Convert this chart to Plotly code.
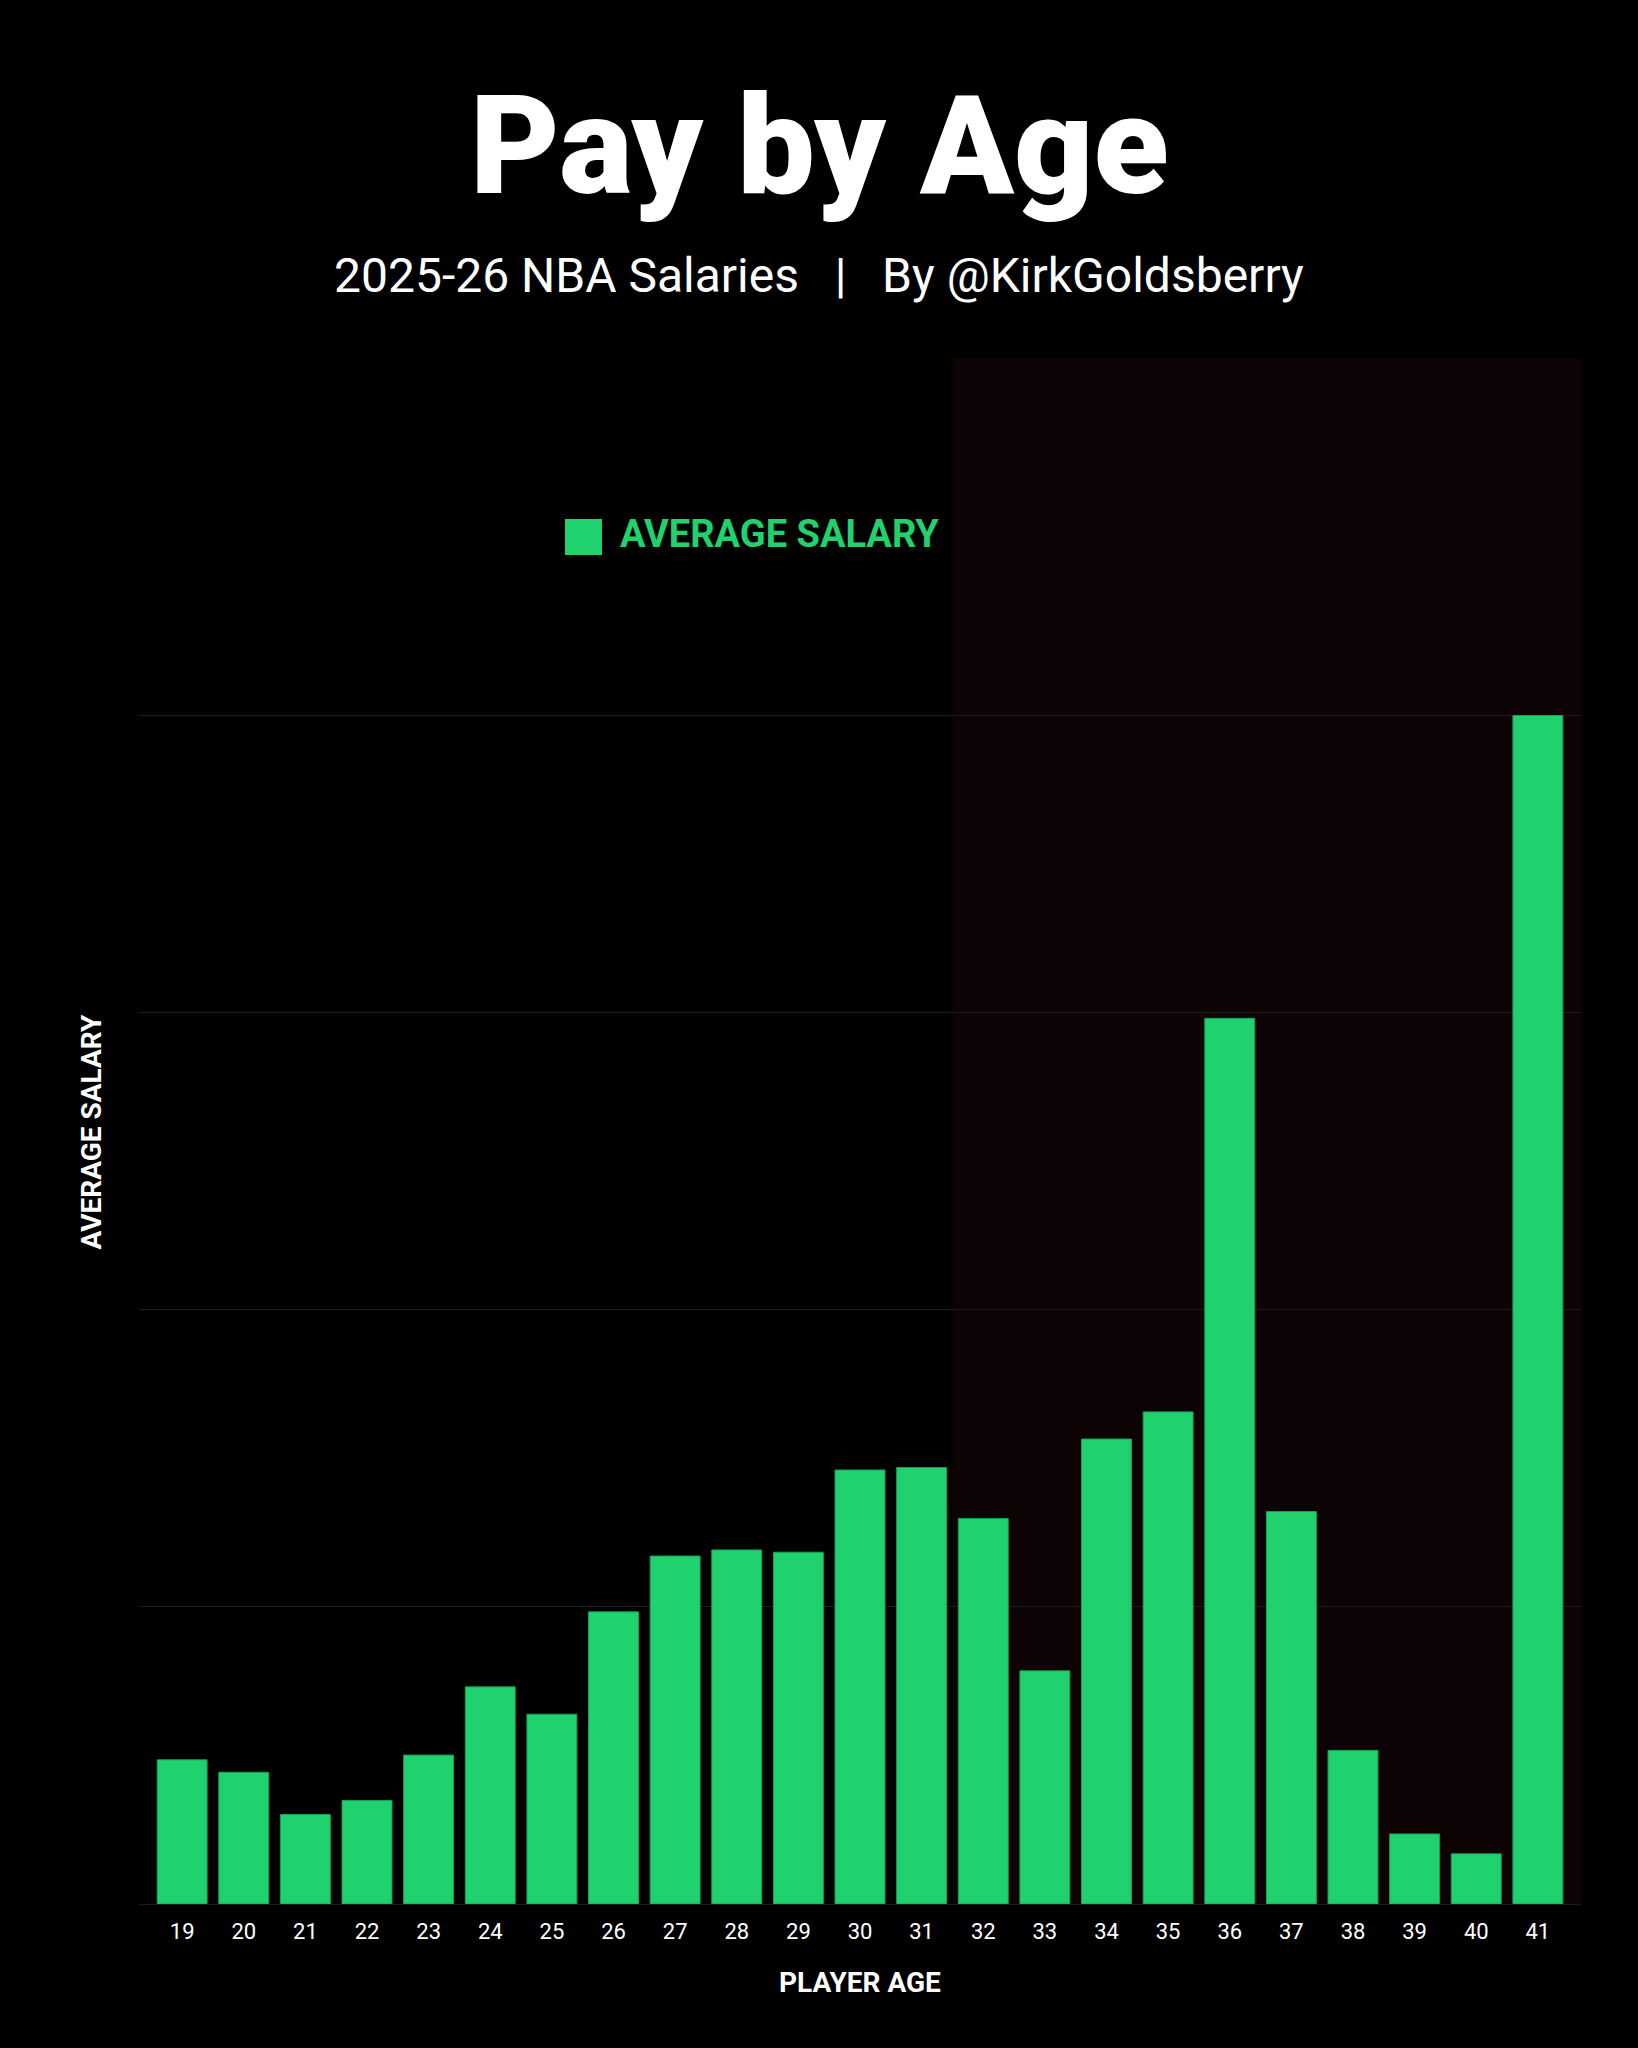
import plotly.graph_objects as go

# ---- data ----
ages = [19, 20, 21, 22, 23, 24, 25, 26, 27, 28, 29, 30, 31, 32, 33, 34, 35, 36, 37, 38, 39, 40, 41]
avg_salary_m = [6.38, 5.83, 3.96, 4.58, 6.59, 9.61, 8.40, 12.93, 15.40, 15.67, 15.57, 19.21,
                19.32, 17.06, 10.32, 20.58, 21.78, 39.20, 17.37, 6.80, 3.10, 2.22, 52.60]
tick_labels = [str(a) for a in ages]
series_name = "AVERAGE SALARY"
title_text = "Pay by Age"
subtitle_text = "2025-26 NBA Salaries\u00a0\u00a0\u00a0|\u00a0\u00a0\u00a0By @KirkGoldsberry"
x_title = "PLAYER AGE"
y_title = "AVERAGE SALARY"
shade_from_age = 31.5

W, H = 1638, 2048
ML, MR, MT, MB = 139, 57, 359, 144
plot_h = H - MT - MB
plot_w = W - ML - MR
base_px = H - MB

def py(px):
    return (base_px - px) / plot_h

def px_x(px):
    return (px - ML) / plot_w

GREEN = "#20d26e"
FONT = "Roboto"

ymax = max(avg_salary_m)
grid_vals = [ymax * k / 4 for k in range(5)]

fig = go.Figure()
fig.add_trace(go.Bar(
    x=ages, y=avg_salary_m, name=series_name,
    marker=dict(color=GREEN, line=dict(color="#1a9f56", width=1)),
    showlegend=False, hoverinfo="skip",
))

fig.update_layout(
    width=W, height=H,
    margin=dict(l=ML, r=MR, t=MT, b=MB, pad=0),
    paper_bgcolor="#000000", plot_bgcolor="#000000",
    bargap=0.19,
    font=dict(family=FONT, color="#ffffff"),
    xaxis=dict(
        range=[ages[0] - 0.7, ages[-1] + 0.7],
        tickmode="array", tickvals=ages, ticktext=tick_labels,
        tickfont=dict(size=22, color="#ffffff", family=FONT),
        showgrid=False, zeroline=False, showline=False, ticks="",
        ticklabelstandoff=12,
    ),
    yaxis=dict(
        range=[0, ymax * 1.3], tickmode="array", tickvals=grid_vals,
        showticklabels=False, showgrid=True, gridcolor="#1c1c1c", gridwidth=1,
        zeroline=True, zerolinecolor="#1c1c1c", zerolinewidth=1, showline=False,
    ),
    shapes=[
        dict(type="rect", xref="x", yref="y domain", x0=shade_from_age, x1=ages[-1] + 0.7,
             y0=0, y1=1, fillcolor="#0e0304", line=dict(width=0), layer="below"),
        dict(type="rect", xref="paper", yref="paper",
             x0=px_x(565), x1=px_x(602), y0=py(555), y1=py(519),
             fillcolor=GREEN, line=dict(width=0)),
    ],
    annotations=[
        dict(text=title_text, xref="paper", yref="paper", x=px_x(819), y=py(146),
             xanchor="center", yanchor="middle", showarrow=False,
             font=dict(family=FONT, size=138, color="#ffffff", weight=900)),
        dict(text=subtitle_text, xref="paper", yref="paper", x=px_x(819), y=py(275),
             xanchor="center", yanchor="middle", showarrow=False,
             font=dict(family=FONT, size=48, color="#ffffff")),
        dict(text=series_name, xref="paper", yref="paper", x=px_x(618), y=py(534),
             xanchor="left", yanchor="middle", showarrow=False,
             font=dict(family=FONT, size=38, color=GREEN, weight=700)),
        dict(text=y_title, xref="paper", yref="paper", x=px_x(91), y=py(1131.5),
             xanchor="center", yanchor="middle", showarrow=False, textangle=-90,
             font=dict(family=FONT, size=28, color="#ffffff", weight=700)),
        dict(text=x_title, xref="paper", yref="paper", x=0.5, y=py(1982),
             xanchor="center", yanchor="middle", showarrow=False,
             font=dict(family=FONT, size=28, color="#ffffff", weight=700)),
    ],
)

fig.write_html("out.html", config={"displayModeBar": False},
               post_script="document.body.style.margin='0';")
